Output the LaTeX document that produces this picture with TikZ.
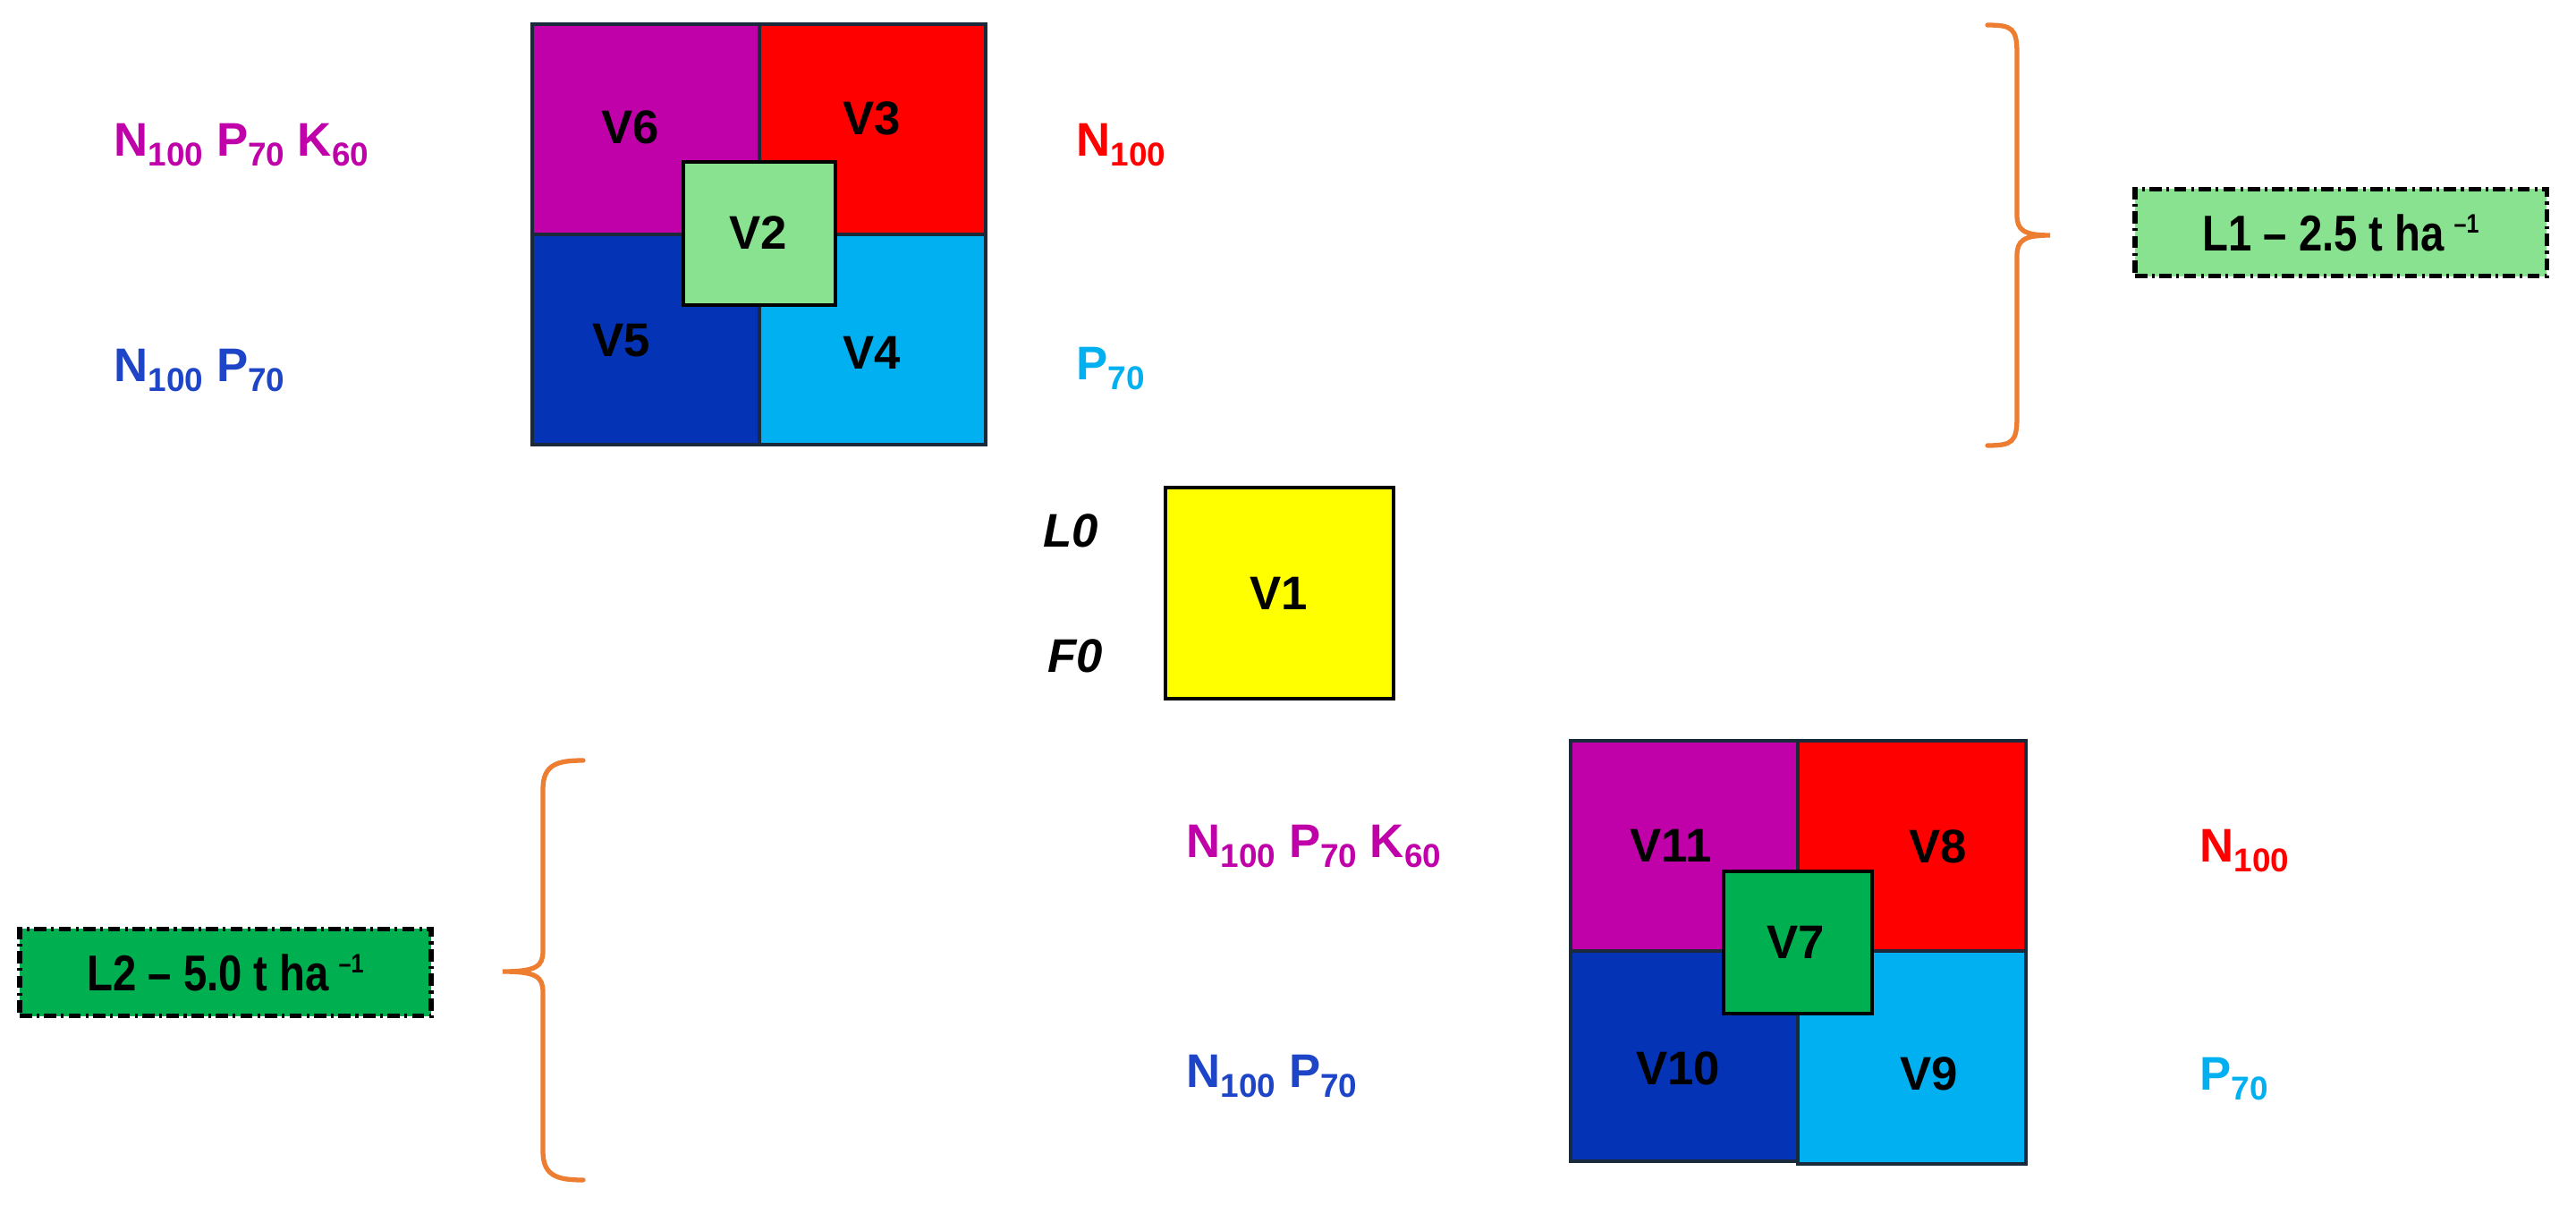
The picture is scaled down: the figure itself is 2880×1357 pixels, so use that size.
\documentclass[tikz,border=0pt]{standalone}
\usepackage{fontspec}
\setmainfont{Liberation Sans}
\newfontfamily\narrowfont[FakeStretch=0.84]{Liberation Sans}
\definecolor{plmag}{HTML}{C000A8}
\definecolor{plred}{HTML}{FF0000}
\definecolor{plblue}{HTML}{0433B5}
\definecolor{plcyan}{HTML}{00B0F0}
\definecolor{pllgreen}{HTML}{88E28F}
\definecolor{plgreen}{HTML}{00B050}
\definecolor{plyellow}{HTML}{FFFF00}
\definecolor{gridc}{HTML}{1B2A3A}
\definecolor{orng}{HTML}{ED7D31}
\definecolor{txtblue}{HTML}{1E45C8}
\newcommand{\plsub}[1]{\raisebox{-3.3pt}{\fontsize{10.5}{12}\selectfont #1}}
\newcommand{\plsup}[1]{\raisebox{5.5pt}{\fontsize{8.5}{9}\selectfont #1}}
\begin{document}
\begin{tikzpicture}[x=0.01cm, y=-0.01cm,
    font=\fontsize{15}{18}\selectfont\bfseries,
    plot/.style={draw=gridc, line width=1.1pt},
    lab/.style={anchor=base west, inner sep=0pt},
    dose/.style={draw=black, line width=1.5pt, dash pattern=on 3.9pt off 1.5pt on 0.9pt off 1.5pt,
        minimum width=4.6cm, minimum height=0.97cm, font=\narrowfont\fontsize{16}{18}\selectfont\bfseries},
    brc/.style={draw=orng, line width=1.5pt, line cap=round}]
\path[use as bounding box, fill=white] (0,0) rectangle (2880,1357);
% L1 plots
\filldraw[plot, fill=plmag] (595,27) rectangle (849,262);
\filldraw[plot, fill=plred] (849,27) rectangle (1102,262);
\filldraw[plot, fill=plblue] (595,262) rectangle (849,497);
\filldraw[plot, fill=plcyan] (849,262) rectangle (1102,497);
\filldraw[plot, draw=black, fill=pllgreen] (764,181) rectangle (934,341);
\node (v6) at (705,142) {V6};
\node (v3) at (975,132) {V3};
\node (v5) at (695,381) {V5};
\node (v4) at (975,394) {V4};
\node (v2) at (848,260) {V2};
\node[lab, text=plmag] (t1) at (127,174) {N\plsub{100} P\plsub{70} K\plsub{60}};
\node[lab, text=txtblue] (t2) at (127,426) {N\plsub{100} P\plsub{70}};
\node[lab, text=plred] (t3) at (1203,174) {N\plsub{100}};
\node[lab, text=plcyan] (t4) at (1203,424) {P\plsub{70}};
% control
\filldraw[plot, draw=black, fill=plyellow] (1303,545) rectangle (1558,781);
\node (v1) at (1430,663) {V1};
\node (l0) at (1197,593) {\itshape L0};
\node (f0) at (1202,733) {\itshape F0};
% L2 plots
\filldraw[plot, fill=plmag] (1756,828) rectangle (2010,1063);
\filldraw[plot, fill=plred] (2010,828) rectangle (2265,1063);
\filldraw[plot, fill=plblue] (1756,1063) rectangle (2010,1298);
\filldraw[plot, fill=plcyan] (2010,1063) rectangle (2265,1301);
\filldraw[plot, draw=black, fill=plgreen] (1927,974) rectangle (2093,1133);
\node (v11) at (1868,945) {V11};
\node (v8) at (2167,946) {V8};
\node (v10) at (1876,1194) {V10};
\node (v9) at (2157,1200) {V9};
\node (v7) at (2008,1053) {V7};
\node[lab, text=plmag] (b1) at (1326,958) {N\plsub{100} P\plsub{70} K\plsub{60}};
\node[lab, text=txtblue] (b2) at (1326,1215) {N\plsub{100} P\plsub{70}};
\node[lab, text=plred] (b3) at (2459,963) {N\plsub{100}};
\node[lab, text=plcyan] (b4) at (2459,1218) {P\plsub{70}};
% braces and doses
\draw[brc] (2222,28) .. controls (2250,28) and (2255,32) .. (2255,60) -- (2255,240)
    .. controls (2255,257) and (2262,263) .. (2292,263)
    .. controls (2262,263) and (2255,269) .. (2255,286) -- (2255,466)
    .. controls (2255,494) and (2250,498) .. (2222,498);
\draw[brc] (652,850) .. controls (624,850) and (607,854) .. (607,882) -- (607,1063)
    .. controls (607,1080) and (600,1086) .. (562,1086)
    .. controls (600,1086) and (607,1092) .. (607,1109) -- (607,1287)
    .. controls (607,1315) and (624,1319) .. (652,1319);
\node[dose, fill=pllgreen] (d1) at (2617,260) {L1 – 2.5 t ha\hspace{3pt}\plsup{–1}};
\node[dose, fill=plgreen] (d2) at (252,1087) {L2 – 5.0 t ha\hspace{3pt}\plsup{–1}};
\end{tikzpicture}
\end{document}
